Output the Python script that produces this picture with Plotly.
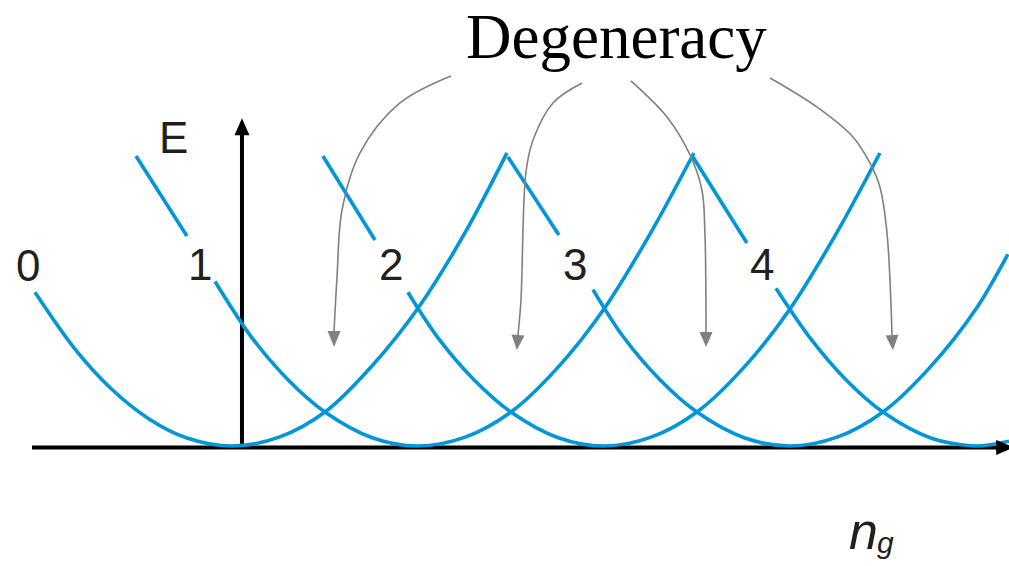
import plotly.graph_objects as go

# ---------------------------------------------------------------
# Charging-energy parabolas E(n_g) for charge states n = 0..4
# n_g in units of e, E in units of E_C
# ---------------------------------------------------------------
STATE_LABELS = ["0", "1", "2", "3", "4"]

# lower (parabolic) part of each branch
NG_0 = [-1.113, -0.9, -0.7, -0.5, -0.3, -0.054, 0.2, 0.45, 0.7, 0.95, 1.2, 1.425]
E_0 = [1.13, 0.716, 0.417, 0.199, 0.061, 0.0, 0.065, 0.254, 0.59, 1.02, 1.57, 2.155]

NG_1 = [-0.145, 0.05, 0.25, 0.45, 0.7, 0.946, 1.2, 1.45, 1.7, 1.95, 2.2, 2.43]
E_1 = [1.21, 0.803, 0.484, 0.246, 0.061, 0.0, 0.065, 0.254, 0.58, 1.015, 1.573, 2.154]

NG_2 = [0.892, 1.05, 1.25, 1.45, 1.7, 1.946, 2.2, 2.45, 2.7, 2.95, 3.2, 3.43]
E_2 = [1.13, 0.803, 0.484, 0.246, 0.061, 0.0, 0.065, 0.254, 0.58, 1.015, 1.573, 2.154]

NG_3 = [1.887, 2.05, 2.25, 2.45, 2.7, 2.946, 3.2, 3.45, 3.7, 3.95, 4.118]
E_3 = [1.15, 0.803, 0.484, 0.246, 0.061, 0.0, 0.065, 0.254, 0.58, 1.015, 1.41]

NG_4 = [2.871, 3.05, 3.25, 3.45, 3.7, 3.946, 4.124]
E_4 = [1.16, 0.803, 0.484, 0.246, 0.061, 0.0, 0.035]

# upper-left pieces of branches 1..4, interrupted by the state labels
NG_UP_1 = [-0.570, -0.296]
E_UP_1 = [2.132, 1.544]
NG_UP_2 = [0.435, 0.715]
E_UP_2 = [2.132, 1.515]
NG_UP_3 = [1.430, 1.704]
E_UP_3 = [2.125, 1.551]
NG_UP_4 = [2.425, 2.715]
E_UP_4 = [2.125, 1.493]

# state label anchor points
LABEL_NG = [-1.151, -0.226, 0.801, 1.790, 2.796]
LABEL_E = [1.324, 1.338, 1.338, 1.331, 1.331]

# "Degeneracy" pointer arrows (last point is the arrow tip)
ARROW_NG_1 = [1.124, 0.849, 0.634, 0.538, 0.511, 0.495, 0.495]
ARROW_E_1 = [2.721, 2.522, 2.154, 1.735, 1.243, 0.846, 0.728]
ARROW_NG_2 = [1.828, 1.672, 1.565, 1.527, 1.500, 1.484, 1.478]
ARROW_E_2 = [2.669, 2.522, 2.250, 2.015, 1.074, 0.816, 0.706]
ARROW_NG_3 = [2.091, 2.285, 2.409, 2.473, 2.489, 2.495, 2.495]
ARROW_E_3 = [2.684, 2.419, 2.140, 1.882, 1.566, 0.838, 0.728]
ARROW_NG_4 = [2.839, 3.091, 3.285, 3.376, 3.430, 3.468, 3.495, 3.500]
ARROW_E_4 = [2.706, 2.493, 2.272, 2.081, 1.904, 1.566, 0.816, 0.706]

BLUE = "#0096d8"
GREY = "#808080"
INK = "#231f20"

W, H = 1009, 566
X_RANGE = [-1.301, 4.124]
Y_RANGE = [-0.882, 3.279]
SX = W / (X_RANGE[1] - X_RANGE[0])   # px per unit n_g
SY = H / (Y_RANGE[1] - Y_RANGE[0])   # px per unit E


def head_path(tip, base, half_px):
    """Filled triangular arrow head from base to tip (data coords)."""
    dx = (tip[0] - base[0]) * SX
    dy = (tip[1] - base[1]) * SY
    ln = (dx * dx + dy * dy) ** 0.5
    px, py = -dy / ln, dx / ln
    c1 = (base[0] + px * half_px / SX, base[1] + py * half_px / SY)
    c2 = (base[0] - px * half_px / SX, base[1] - py * half_px / SY)
    return (f"M{tip[0]},{tip[1]} L{c1[0]},{c1[1]} "
            f"L{c2[0]},{c2[1]} Z")


fig = go.Figure()

branches = [(NG_0, E_0), (NG_1, E_1), (NG_2, E_2), (NG_3, E_3), (NG_4, E_4)]
for ng, e in branches:
    fig.add_trace(go.Scatter(
        x=ng, y=e, mode="lines",
        line=dict(color=BLUE, width=3.6, shape="spline", smoothing=0.9),
        hoverinfo="skip", showlegend=False))

uppers = [(NG_UP_1, E_UP_1), (NG_UP_2, E_UP_2), (NG_UP_3, E_UP_3), (NG_UP_4, E_UP_4)]
for ng, e in uppers:
    fig.add_trace(go.Scatter(
        x=ng, y=e, mode="lines",
        line=dict(color=BLUE, width=3.6),
        hoverinfo="skip", showlegend=False))

shapes = []
arrows = [(ARROW_NG_1, ARROW_E_1), (ARROW_NG_2, ARROW_E_2),
          (ARROW_NG_3, ARROW_E_3), (ARROW_NG_4, ARROW_E_4)]
for ng, e in arrows:
    fig.add_trace(go.Scatter(
        x=ng[:-1], y=e[:-1], mode="lines",
        line=dict(color=GREY, width=1.6, shape="spline", smoothing=1.0),
        hoverinfo="skip", showlegend=False))
    shapes.append(dict(type="path", xref="x", yref="y",
                       path=head_path((ng[-1], e[-1]), (ng[-2], e[-2]), 6.5),
                       fillcolor=GREY, line=dict(width=0)))

# coordinate axes with arrow heads
AXIS_E = -0.01
shapes.append(dict(type="line", xref="x", yref="y", x0=-1.129, x1=4.06,
                   y0=AXIS_E, y1=AXIS_E, line=dict(color="black", width=4),
                   layer="below"))
shapes.append(dict(type="path", xref="x", yref="y",
                   path=head_path((4.151, AXIS_E), (4.055, AXIS_E), 7.5),
                   fillcolor="black", line=dict(width=0)))
shapes.append(dict(type="line", xref="x", yref="y", x0=0, x1=0,
                   y0=AXIS_E - 0.01, y1=2.29, line=dict(color="black", width=4),
                   layer="below"))
shapes.append(dict(type="path", xref="x", yref="y",
                   path=head_path((0, 2.41), (0, 2.285), 7.5),
                   fillcolor="black", line=dict(width=0)))

annotations = []
for lab, x, y in zip(STATE_LABELS, LABEL_NG, LABEL_E):
    annotations.append(dict(x=x, y=y, xref="x", yref="y", text=lab,
                            showarrow=False, xanchor="center", yanchor="middle",
                            font=dict(family="Liberation Sans, Arial", size=44, color=INK)))
annotations.append(dict(x=-0.366, y=2.265, xref="x", yref="y", text="E",
                        showarrow=False, xanchor="center", yanchor="middle",
                        font=dict(family="Liberation Sans, Arial", size=44, color=INK)))
annotations.append(dict(x=2.013, y=3.01, xref="x", yref="y", text="Degeneracy",
                        showarrow=False, xanchor="center", yanchor="middle",
                        font=dict(family="Liberation Serif, Times New Roman, serif",
                                  size=63, color="black")))
annotations.append(dict(x=3.344, y=-0.625, xref="x", yref="y", text="n",
                        showarrow=False, xanchor="center", yanchor="middle",
                        font=dict(family="Liberation Sans, Arial", size=52,
                                  color=INK, style="italic")))
annotations.append(dict(x=3.462, y=-0.71, xref="x", yref="y", text="g",
                        showarrow=False, xanchor="center", yanchor="middle",
                        font=dict(family="Liberation Sans, Arial", size=30,
                                  color=INK, style="italic")))

fig.update_layout(
    width=W, height=H,
    margin=dict(l=0, r=0, t=0, b=0),
    paper_bgcolor="white", plot_bgcolor="white",
    xaxis=dict(range=X_RANGE, visible=False, fixedrange=True),
    yaxis=dict(range=Y_RANGE, visible=False, fixedrange=True),
    shapes=shapes, annotations=annotations,
    showlegend=False,
)

fig.write_html("out.html")
